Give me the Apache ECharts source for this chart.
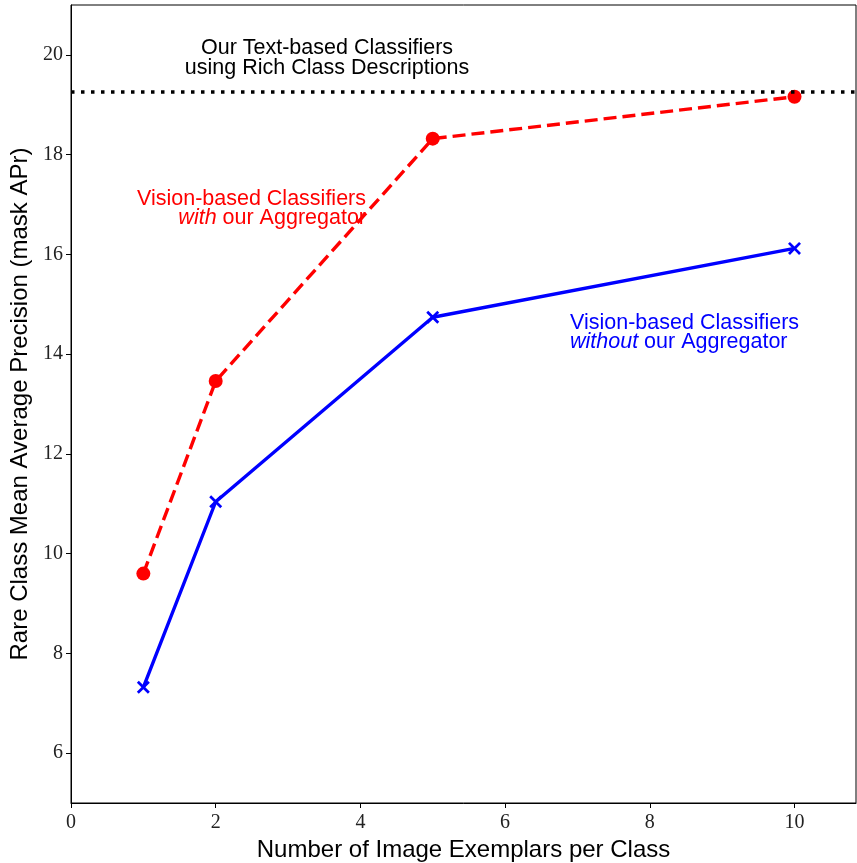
<!DOCTYPE html>
<html>
<head>
<meta charset="utf-8">
<script src="https://cdn.jsdelivr.net/npm/echarts@6/dist/echarts.min.js"></script>
<style>
  html, body { margin: 0; padding: 0; background: #fff; }
  #container { width: 857px; height: 863px; }
</style>
</head>
<body>
<div id="container"></div>
<script>
// exemplars per class (x)
var exemplars = [1, 2, 5, 10];
// with aggregator (red, dashed)
var withAgg = [9.6, 13.46, 18.32, 19.16];
// without aggregator (blue, solid)
var withoutAgg = [7.32, 11.04, 14.74, 16.12];
// text-based classifiers baseline
var textBaseline = 19.26;

var xTicks = [0, 2, 4, 6, 8, 10];
var yTicks = [6, 8, 10, 12, 14, 16, 18, 20];

var sans = '"Liberation Sans", Arial, sans-serif';
var serif = '"Liberation Serif", "DejaVu Serif", serif';

function pairs(xs, ys) {
    var out = [];
    for (var i = 0; i < xs.length; i++) {
        out.push([xs[i], ys[i]]);
    }
    return out;
}

var crossPath = 'path://M0,1.5L1.5,0L5,3.5L8.5,0L10,1.5L6.5,5L10,8.5L8.5,10L5,6.5L1.5,10L0,8.5L3.5,5Z';

var dom = document.getElementById('container');
var myChart = echarts.init(dom, null, { renderer: 'canvas' });

var option = {
    backgroundColor: '#fff',
    animation: false,
    grid: {
        left: 71,
        right: 1,
        top: 5,
        bottom: 60,
        containLabel: false,
        outerBoundsMode: 'none',
        show: true,
        borderColor: '#000',
        borderWidth: 1
    },
    xAxis: {
        type: 'value',
        min: 0,
        max: 10.85,
        interval: 2,
        name: 'Number of Image Exemplars per Class',
        nameLocation: 'middle',
        nameGap: 35,
        nameTextStyle: { fontFamily: sans, fontSize: 24, color: '#000' },
        axisLine: { lineStyle: { color: '#000', width: 1 } },
        axisTick: { show: true, length: 5, lineStyle: { color: '#000' } },
        axisLabel: {
            fontFamily: serif, fontSize: 20, color: '#222', margin: 10,
            showMaxLabel: false,
            formatter: function (v) { return xTicks.indexOf(v) >= 0 ? String(v) : ''; }
        },
        splitLine: { show: false }
    },
    yAxis: {
        type: 'value',
        min: 5,
        max: 21,
        interval: 1,
        name: 'Rare Class Mean Average Precision (mask APr)',
        nameLocation: 'middle',
        nameGap: 37,
        nameTextStyle: { fontFamily: sans, fontSize: 24, color: '#000' },
        axisLine: { lineStyle: { color: '#000', width: 1 } },
        axisTick: {
            show: true, length: 5, lineStyle: { color: '#000' },
            customValues: yTicks
        },
        axisLabel: {
            fontFamily: serif, fontSize: 20, color: '#222', margin: 8,
            customValues: yTicks
        },
        splitLine: { show: false }
    },
    series: [
        {
            name: 'with',
            type: 'line',
            data: pairs(exemplars, withAgg),
            symbol: 'circle',
            symbolSize: 14,
            itemStyle: { color: '#ff0000' },
            lineStyle: { color: '#ff0000', width: 3.4, type: [13, 6] },
            z: 3,
            markLine: {
                silent: true,
                symbol: 'none',
                label: { show: false },
                lineStyle: { color: '#000', width: 3.5, type: [3.5, 6.5] },
                data: [{ yAxis: textBaseline }]
            }
        },
        {
            name: 'without',
            type: 'line',
            data: pairs(exemplars, withoutAgg),
            symbol: crossPath,
            symbolSize: 13,
            itemStyle: { color: '#0000ff' },
            lineStyle: { color: '#0000ff', width: 3.4 },
            z: 2
        }
    ],
    graphic: [
        {
            type: 'text',
            style: {
                x: 327, y: 38,
                text: 'Our Text-based Classifiers\nusing Rich Class Descriptions',
                align: 'center',
                fontFamily: sans, fontSize: 21.5, lineHeight: 20, fill: '#000'
            }
        },
        {
            type: 'text',
            style: {
                x: 366, y: 190,
                text: 'Vision-based Classifiers\n{i|with} our Aggregator',
                align: 'right',
                fontFamily: sans, fontSize: 21.5, lineHeight: 19, fill: '#ff0000',
                rich: { i: { fontStyle: 'italic', fontFamily: sans, fontSize: 21.5, fill: '#ff0000' } }
            }
        },
        {
            type: 'text',
            style: {
                x: 570, y: 314,
                text: 'Vision-based Classifiers\n{i|without} our Aggregator',
                align: 'left',
                fontFamily: sans, fontSize: 21.5, lineHeight: 19, fill: '#0000ff',
                rich: { i: { fontStyle: 'italic', fontFamily: sans, fontSize: 21.5, fill: '#0000ff' } }
            }
        }
    ]
};

if (option && typeof option === 'object') {
    myChart.setOption(option, true);
}
</script>
</body>
</html>
